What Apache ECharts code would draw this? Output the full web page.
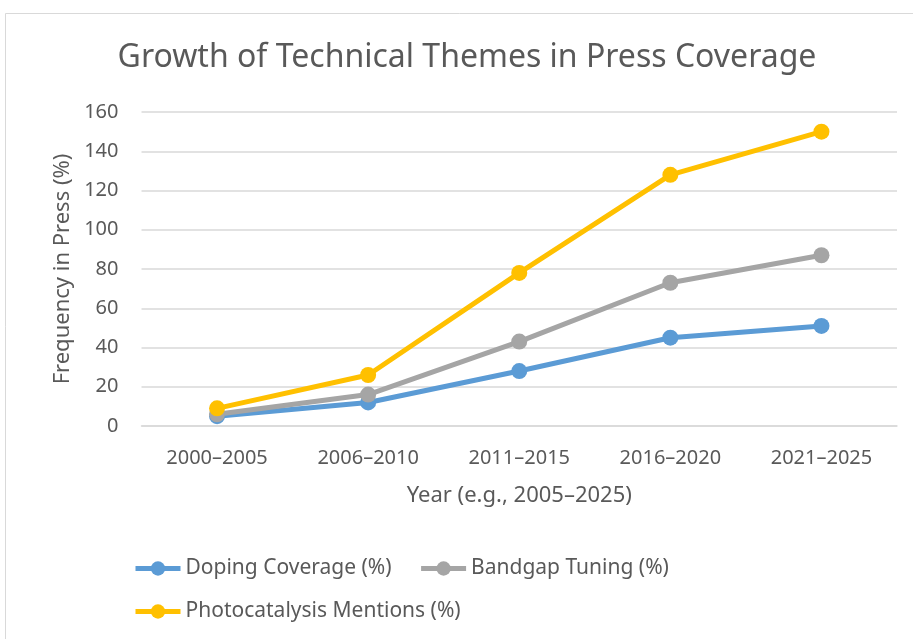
<!DOCTYPE html>
<html>
<head>
<meta charset="utf-8">
<script src="https://cdn.jsdelivr.net/npm/echarts@6/dist/echarts.min.js"></script>
<style>
  html, body { margin: 0; padding: 0; background: #fff; }
  #chart { width: 913px; height: 639px; }
</style>
</head>
<body>
<div id="chart"></div>
<script>
// Period buckets on the x axis
const periods = ['2000–2005', '2006–2010', '2011–2015', '2016–2020', '2021–2025'];

// Share of press items mentioning each theme (%)
const dopingCoverage = [5, 12, 28, 45, 51];
const bandgapTuning = [6, 16, 43, 73, 87];
const photocatalysisMentions = [9, 26, 78, 128, 150];

// Y axis ticks
const yMin = 0;
const yMax = 160;
const yStep = 20;

const FONT = '"Noto Sans", "Open Sans", sans-serif';
const TEXT = '#595959';
const GRID = '#d9d9d9';

function lineSeries(name, data, color) {
  return {
    name: name,
    type: 'line',
    data: data,
    symbol: 'circle',
    symbolSize: 16,
    lineStyle: { color: color, width: 5 },
    itemStyle: { color: color },
    emphasis: { disabled: true },
    z: 3
  };
}

const legendText = { fontFamily: FONT, fontSize: 21, color: TEXT };
const legendLine = { width: 5 };

const chart = echarts.init(document.getElementById('chart'), null, { renderer: 'canvas' });

chart.setOption({
  animation: false,
  backgroundColor: '#ffffff',
  textStyle: { fontFamily: FONT, color: TEXT },
  graphic: [{
    type: 'rect',
    shape: { x: 5.5, y: 13.5, width: 920, height: 640 },
    style: { fill: 'none', stroke: GRID, lineWidth: 1 },
    silent: true
  }, {
    // chart title
    type: 'text',
    x: 467,
    y: 58,
    style: {
      text: 'Growth of Technical Themes in Press Coverage',
      fontFamily: FONT,
      fontSize: 32,
      fill: TEXT,
      align: 'center',
      verticalAlign: 'middle'
    },
    silent: true
  }],
  legend: [{
    data: ['Doping Coverage (%)', 'Bandgap Tuning (%)'],
    left: 133,
    top: 558,
    padding: 0,
    itemWidth: 45,
    itemHeight: 18,
    itemGap: 27,
    lineStyle: legendLine,
    textStyle: legendText,
    selectedMode: false
  }, {
    data: ['Photocatalysis Mentions (%)'],
    left: 133,
    top: 601,
    padding: 0,
    itemWidth: 45,
    itemHeight: 18,
    lineStyle: legendLine,
    textStyle: legendText,
    selectedMode: false
  }],
  grid: { left: 141.5, right: 16, top: 112, bottom: 213 },
  xAxis: {
    type: 'category',
    data: periods,
    boundaryGap: true,
    name: 'Year (e.g., 2005–2025)',
    nameLocation: 'middle',
    nameGap: 59,
    nameTextStyle: { fontFamily: FONT, fontSize: 22, color: TEXT },
    axisLine: { show: true, lineStyle: { color: GRID, width: 1.5 } },
    axisTick: { show: false },
    axisLabel: { fontFamily: FONT, fontSize: 20, color: TEXT, margin: 22 }
  },
  yAxis: {
    type: 'value',
    min: yMin,
    max: yMax,
    interval: yStep,
    name: 'Frequency in Press (%)',
    nameLocation: 'middle',
    nameGap: 67,
    nameTextStyle: { fontFamily: FONT, fontSize: 22, color: TEXT },
    axisLine: { show: false },
    axisTick: { show: false },
    axisLabel: { fontFamily: FONT, fontSize: 20, color: TEXT, margin: 23 },
    splitLine: { lineStyle: { color: GRID, width: 1.5 } }
  },
  series: [
    lineSeries('Doping Coverage (%)', dopingCoverage, '#5b9bd5'),
    lineSeries('Bandgap Tuning (%)', bandgapTuning, '#a5a5a5'),
    lineSeries('Photocatalysis Mentions (%)', photocatalysisMentions, '#ffc000')
  ]
});
</script>
</body>
</html>
